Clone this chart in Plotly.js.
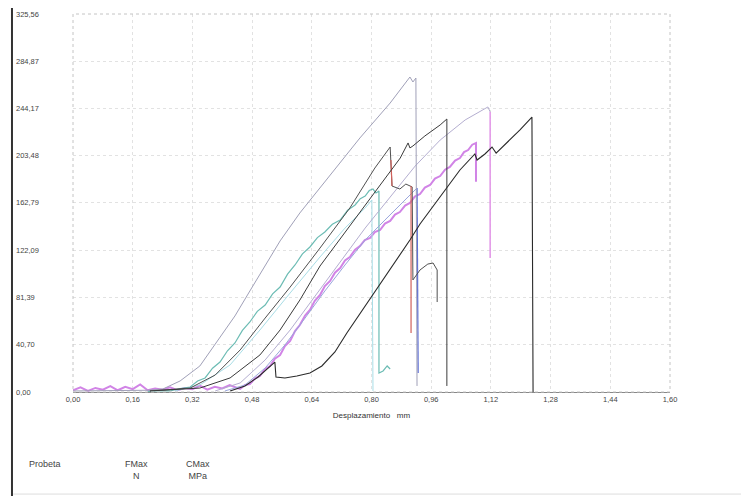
<!DOCTYPE html>
<html>
<head>
<meta charset="utf-8">
<script src="https://cdn.plot.ly/plotly-3.0.1.min.js"></script>
<style>
html,body{margin:0;padding:0;background:#fff;}
#chart{width:741px;height:496px;}
</style>
</head>
<body>
<div id="chart"></div>
<script>
// ---- axis ticks ----
const xTickVals = [0, 0.16, 0.32, 0.48, 0.64, 0.80, 0.96, 1.12, 1.28, 1.44, 1.60];
const xTickText = ['0,00','0,16','0,32','0,48','0,64','0,80','0,96','1,12','1,28','1,44','1,60'];
const yTickVals = [0, 40.70, 81.39, 122.09, 162.79, 203.48, 244.17, 284.87, 325.56];
const yTickText = ['0,00','40,70','81,39','122,09','162,79','203,48','244,17','284,87','325,56'];

// ---- specimen curves (displacement mm, force N) ----
const aX = [0,0.099,0.200,0.241,0.287,0.340,0.386,0.434,0.474,0.515,0.555,0.608,0.689,0.769,0.850,0.890,0.903,0.911,0.919,0.922];
const aY = [0.9,0.9,1.5,2.6,9.5,22.4,43.1,65.5,87.0,109.4,130.1,154.2,186.9,218.8,248.9,265.3,271.3,267.0,270.4,5.2];

const bX = [0.206,0.340,0.421,0.501,0.555,0.608,0.662,0.708,0.769,0.823,0.877,0.898,0.903,0.911,0.943,0.984,1.002,1.002];
const bY = [0.9,3.4,12.1,31.9,53.4,79.2,108.5,128.3,155.0,178.3,201.5,214.5,210.2,211.9,220.5,230.0,235.1,5.2];

const dX = [0.206,0.314,0.381,0.448,0.515,0.582,0.662,0.742,0.809,0.850,0.855,0.876,0.892,0.909,0.911,0.930,0.951,0.965,0.976,0.976];
const dY = [0.9,3.4,14.6,36.2,63.7,90.4,124.0,158.5,192.9,211.0,177.4,174.8,179.1,176.6,96.5,105.1,110.2,111.1,105.1,77.5];

const redX = [0.852,0.855,null,0.906,0.906];
const redY = [199.8,177.4,null,177.4,50.8];

const tealX = [0.200,0.230,0.260,0.287,0.314,0.334,0.354,0.374,0.394,0.414,0.434,0.454,0.474,0.494,0.515,0.535,0.555,0.575,0.595,0.615,0.635,0.655,0.675,0.695,0.716,0.736,0.756,0.770,0.783,0.794,0.804,0.812,0.820,0.820,0.831,0.842,0.850];
const tealY = [0.5,1.2,0.9,3.0,4.3,9.5,12.1,20.5,25.8,35.5,42.2,53.0,60.3,69.5,74.9,84.5,90.4,101.5,109.4,119.0,124.9,133.0,137.8,144.5,148.1,156.5,161.1,166.5,168.8,173.5,174.8,171.4,173.1,16.4,18.1,22.4,19.8];

const cyanX = [0.273,0.340,0.421,0.501,0.582,0.662,0.729,0.783,0.801,0.804];
const cyanY = [0.9,6.0,23.3,53.4,85.3,116.3,141.2,158.5,165.4,0.9];

const magX = [0.00,0.02,0.04,0.06,0.08,0.10,0.12,0.14,0.16,0.18,0.20,0.22,0.24,0.26,0.28,0.30,0.32,0.34,0.36,0.38,0.40,0.42,0.44,
  0.448,0.461,0.474,0.488,0.501,0.514,0.528,0.541,0.555,0.568,0.582,0.595,0.608,0.622,0.635,0.648,0.662,0.675,0.689,0.702,0.716,0.729,0.742,0.756,0.769,0.782,0.796,0.809,0.823,0.836,0.850,0.863,0.876,0.890,0.903,0.916,0.930,0.943,0.957,0.970,0.984,0.997,1.010,1.024,1.037,1.048,1.059,1.070,1.080,1.080];
const magY = [1.5,4.0,1.0,3.5,2.0,5.0,1.5,4.5,2.5,6.5,1.5,3.0,2.0,4.0,1.5,3.5,2.5,5.5,2.0,4.5,3.0,6.0,3.5,
  2.6,6.0,6.9,11.8,13.8,19.6,22.4,28.7,31.9,39.5,43.9,52.5,57.7,65.8,70.6,78.6,83.5,91.2,95.6,102.8,106.8,113.2,116.3,122.6,125.7,130.8,132.6,137.7,139.5,145.0,147.3,152.8,155.0,160.5,162.8,168.3,170.5,176.0,178.3,183.8,186.0,191.5,193.8,199.3,201.5,206.6,208.4,213.0,214.5,181.0];

const blueX = [0.407,0.461,0.515,0.568,0.622,0.675,0.729,0.783,0.836,0.890,0.922];
const blueY = [0.9,6.0,20.7,40.5,63.7,87.0,109.4,130.9,148.1,165.4,175.7];
const blueDropX = [0.922,0.925];
const blueDropY = [175.7,16.4];

const eX = [0.381,0.448,0.515,0.582,0.649,0.716,0.783,0.850,0.917,0.984,1.051,1.112,1.118];
const eY = [0.9,7.8,27.6,53.4,82.7,112.0,141.2,167.9,194.6,217.0,234.3,245.5,241.2];
const eDropX = [1.118,1.118];
const eDropY = [241.2,115.4];

const cX = [0.421,0.461,0.496,0.523,0.541,0.544,0.568,0.600,0.635,0.667,0.702,0.734,0.769,0.804,0.850,0.903,0.930,0.984,1.037,1.077,1.083,1.104,1.123,1.134,1.171,1.198,1.230,1.233];
const cY = [0.9,5.2,12.9,20.7,25.8,12.9,12.1,13.8,16.4,22.4,34.5,50.8,67.2,83.5,105.1,130.9,144.7,167.9,191.2,205.0,199.8,205.0,211.0,205.8,217.0,225.7,236.8,0];

function tr(x, y, color, width, dash) {
  return {x: x, y: y, type: 'scatter', mode: 'lines',
    line: {color: color, width: width, dash: dash || 'solid'}, hoverinfo: 'skip', showlegend: false};
}

const data = [
  tr(magX, magY, '#d184e6', 2),
  tr(cyanX, cyanY, '#a8dde6', 1),
  tr(tealX, tealY, '#6cbcb4', 1.2),
  tr(eX, eY, '#b4aed0', 1),
  tr(eDropX, eDropY, '#e295e8', 1.5),
  tr(blueX, blueY, '#9aa6dc', 1),
  tr(blueDropX, blueDropY, '#5f70d6', 1.3),
  tr(aX, aY, '#a0a0b8', 1),
  tr(dX, dY, '#505050', 1),
  tr(redX, redY, '#d0605a', 1.2),
  tr(bX, bY, '#3a3a3a', 1),
  tr(cX, cY, '#2a2a2a', 1.1)
];

const annotations = yTickVals.map((v, i) => ({
  xref: 'paper', yref: 'y', x: -0.0988, y: v, xanchor: 'left', yanchor: 'middle',
  text: yTickText[i], showarrow: false, font: {family: 'Liberation Sans, Arial', size: 7.5, color: '#444'}
}));
annotations.push(
  {xref:'paper', yref:'paper', x:-0.077, y:-0.1905, xanchor:'left', yanchor:'middle', text:'Probeta', showarrow:false,
   font:{family:'Liberation Sans, Arial', size:9, color:'#444'}},
  {xref:'paper', yref:'paper', x:0.107, y:-0.206, xanchor:'center', yanchor:'middle', align:'center', text:'FMax<br>N', showarrow:false,
   font:{family:'Liberation Sans, Arial', size:9, color:'#444'}},
  {xref:'paper', yref:'paper', x:0.209, y:-0.206, xanchor:'center', yanchor:'middle', align:'center', text:'CMax<br>MPa', showarrow:false,
   font:{family:'Liberation Sans, Arial', size:9, color:'#444'}}
);

const layout = {
  width: 741, height: 496,
  margin: {l: 73, r: 71, t: 14, b: 104},
  paper_bgcolor: '#fff', plot_bgcolor: '#fff',
  showlegend: false,
  xaxis: {
    range: [0, 1.6], tickvals: xTickVals, ticktext: xTickText,
    showgrid: true, gridcolor: '#e2e2e2', griddash: 'dot', gridwidth: 1,
    zeroline: false, showline: true, linecolor: '#888', linewidth: 1,
    ticks: '', tickfont: {family: 'Liberation Sans, Arial', size: 7.5, color: '#444'},
    title: {text: 'Desplazamiento&nbsp;&nbsp;&nbsp;mm', standoff: 9, font: {family: 'Liberation Sans, Arial', size: 8, color: '#333'}}
  },
  yaxis: {
    range: [0, 325.56], tickvals: yTickVals, showticklabels: false,
    showgrid: true, gridcolor: '#e2e2e2', griddash: 'dot', gridwidth: 1,
    zeroline: false, showline: false, ticks: ''
  },
  annotations: annotations,
  shapes: [
    {type:'rect', xref:'paper', yref:'paper', x0:0, x1:1, y0:0, y1:1, line:{color:'#c4c4c4', width:1, dash:'dot'}},
    {type:'line', xref:'paper', yref:'paper', x0:-0.1022, x1:-0.1022, y0:1.016, y1:-0.275, line:{color:'#333', width:2}},
    {type:'line', xref:'paper', yref:'paper', x0:-0.1, x1:1.12, y0:-0.27, y1:-0.27, line:{color:'#ddd', width:1}}
  ]
};

Plotly.newPlot('chart', data, layout, {staticPlot: true, displayModeBar: false});
</script>
</body>
</html>
